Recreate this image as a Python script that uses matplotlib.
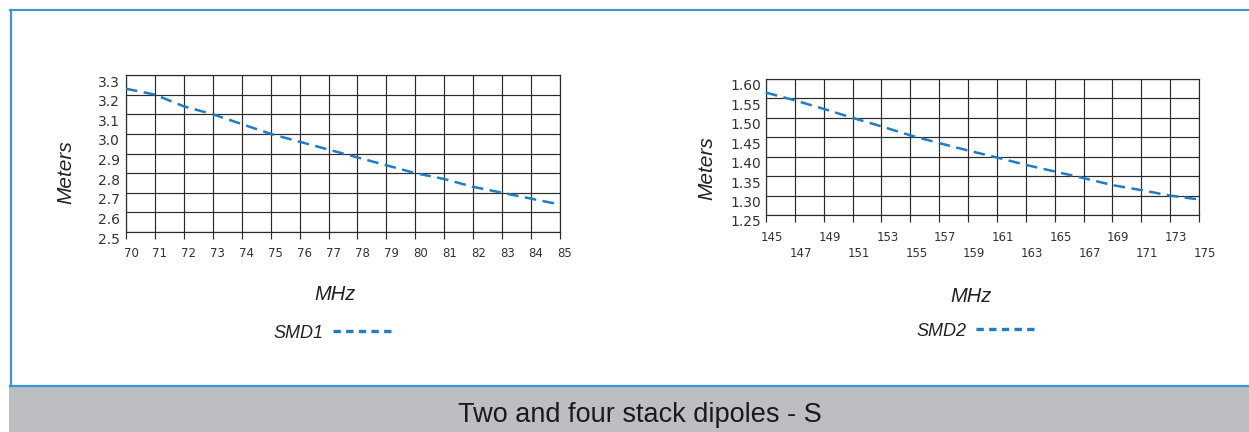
import matplotlib
matplotlib.use("Agg")
import matplotlib.pyplot as plt
from matplotlib.lines import Line2D
from matplotlib.patches import Rectangle
from matplotlib.transforms import ScaledTranslation

# ---- data ----
smd1_mhz = [70, 71, 72, 73, 74, 75, 76, 77, 78, 79, 80, 81, 82, 83, 84, 85]
smd1_m = [3.23, 3.20, 3.14, 3.10, 3.05, 3.00, 2.96, 2.92, 2.88, 2.84, 2.80, 2.77, 2.73, 2.70, 2.67, 2.64]
smd1_yticks = [2.5, 2.6, 2.7, 2.8, 2.9, 3.0, 3.1, 3.2, 3.3]
smd1_ylabels = ["2.5", "2.6", "2.7", "2.8", "2.9", "3.0", "3.1", "3.2", "3.3"]

smd2_mhz = [145, 147, 149, 151, 153, 155, 157, 159, 161, 163, 165, 167, 169, 171, 173, 175]
smd2_m = [1.565, 1.545, 1.523, 1.500, 1.478, 1.455, 1.435, 1.416, 1.398, 1.379, 1.362, 1.345, 1.327, 1.314, 1.300, 1.290]
smd2_yticks = [1.25, 1.30, 1.35, 1.40, 1.45, 1.50, 1.55, 1.60]
smd2_ylabels = ["1.25", "1.30", "1.35", "1.40", "1.45", "1.50", "1.55", "1.60"]

title = "Two and four stack dipoles - S"

W, H = 1249, 432
fig = plt.figure(figsize=(W / 100, H / 100), dpi=100)
fig.patch.set_facecolor("white")

BLUE = "#1f7cc6"
FRAME = "#3a96d4"
GRAY = "#bdbec1"
GRID = "#2b2b2b"
TXT = "#333333"

def px(x0, y_top, x1, y_bot):
    return [x0 / W, 1 - y_bot / H, (x1 - x0) / W, (y_bot - y_top) / H]

def style_axes(ax, xs, ys, yticks, ylabels, xlim, ylim, ylabel_pad):
    ax.set_xlim(*xlim)
    ax.set_ylim(*ylim)
    ax.plot(xs, ys, color=BLUE, lw=1.8, ls=(0, (4.6, 2.6)), zorder=3, clip_on=False)
    ax.set_yticks(yticks)
    ax.set_yticklabels(ylabels, fontsize=10, color=TXT, family="DejaVu Sans")
    ax.tick_params(axis="y", length=0, pad=ylabel_pad)
    ax.grid(True, color=GRID, lw=0.85)
    for s in ax.spines.values():
        s.set_color(GRID)
        s.set_linewidth(0.85)
    off = ScaledTranslation(0, -6 / 100, fig.dpi_scale_trans)
    for lab in ax.get_yticklabels():
        lab.set_transform(lab.get_transform() + off)

# ---- left chart ----
ax1 = fig.add_axes(px(126, 75, 560, 232))
style_axes(ax1, smd1_mhz, smd1_m, smd1_yticks, smd1_ylabels, (70, 85), (2.5, 3.3), 4.5)
ax1.set_xticks(smd1_mhz)
ax1.set_xticklabels([str(v) for v in smd1_mhz], fontsize=8.5, color=TXT, family="DejaVu Sans")
ax1.tick_params(axis="x", length=5, width=0.85, color=GRID, pad=5.5)
offx = ScaledTranslation(5 / 100, 0, fig.dpi_scale_trans)
for lab in ax1.get_xticklabels():
    lab.set_transform(lab.get_transform() + offx)

# ---- right chart ----
ax2 = fig.add_axes(px(766, 79, 1199, 215))
style_axes(ax2, smd2_mhz, smd2_m, smd2_yticks, smd2_ylabels, (145, 175), (1.25, 1.60), 3.5)
top_row = smd2_mhz[0::2]
bot_row = smd2_mhz[1::2]
ax2.set_xticks(top_row)
ax2.set_xticklabels([str(v) for v in top_row], fontsize=8.5, color=TXT, family="DejaVu Sans")
ax2.set_xticks(bot_row, minor=True)
ax2.set_xticklabels([str(v) for v in bot_row], minor=True, fontsize=8.5, color=TXT, family="DejaVu Sans")
ax2.tick_params(axis="x", which="major", length=5, width=0.85, color=GRID, pad=6.5)
ax2.tick_params(axis="x", which="minor", length=5, width=0.85, color=GRID, pad=18)
ax2.grid(True, which="minor", axis="x", color=GRID, lw=0.85)
offx2 = ScaledTranslation(6 / 100, 0, fig.dpi_scale_trans)
for lab in ax2.get_xticklabels() + ax2.get_xticklabels(minor=True):
    lab.set_transform(lab.get_transform() + offx2)

# axis titles
lab_font = dict(family="Liberation Sans", style="italic", color="#222222")
fig.text(66 / W, 1 - 172 / H, "Meters", rotation=90, ha="center", va="center", fontsize=15, **lab_font)
fig.text(707 / W, 1 - 168 / H, "Meters", rotation=90, ha="center", va="center", fontsize=15, **lab_font)
fig.text(335 / W, 1 - 295 / H, "MHz", ha="center", va="center", fontsize=14.5, **lab_font)
fig.text(971 / W, 1 - 297 / H, "MHz", ha="center", va="center", fontsize=14.5, **lab_font)

# legends
def legend_at(ax, label, cx, cy):
    h = Line2D([], [], color=BLUE, lw=2.4, ls=(0, (2.2, 1.6)))
    leg = ax.legend([h], [label], markerfirst=False, frameon=False, loc="center",
                    bbox_to_anchor=(cx / W, 1 - cy / H), bbox_transform=fig.transFigure,
                    handlelength=3.4, handletextpad=0.5,
                    prop=dict(family="Liberation Sans", style="italic", size=13))
    for t in leg.get_texts():
        t.set_color("#222222")

legend_at(ax1, "SMD1", 334, 333)
legend_at(ax2, "SMD2", 977, 331)

# frame and footer band
fig.add_artist(Line2D([10.5 / W, 10.5 / W], [1 - 10 / H, 1 - 386 / H], color=FRAME, lw=1.6))
fig.add_artist(Line2D([10 / W, 1.0], [1 - 10 / H, 1 - 10 / H], color=FRAME, lw=1.6))
fig.add_artist(Line2D([10 / W, 1.0], [1 - 386 / H, 1 - 386 / H], color=FRAME, lw=1.6))
fig.add_artist(Rectangle((9 / W, 0), 1 - 9 / W, 1 - 387 / H, transform=fig.transFigure,
                         facecolor=GRAY, edgecolor="none"))
fig.text(640 / W, 1 - 415 / H, title, ha="center", va="center", fontsize=19.5,
         family="Liberation Sans", color="#1a1a1a")

fig.savefig("out.png", dpi=100)
